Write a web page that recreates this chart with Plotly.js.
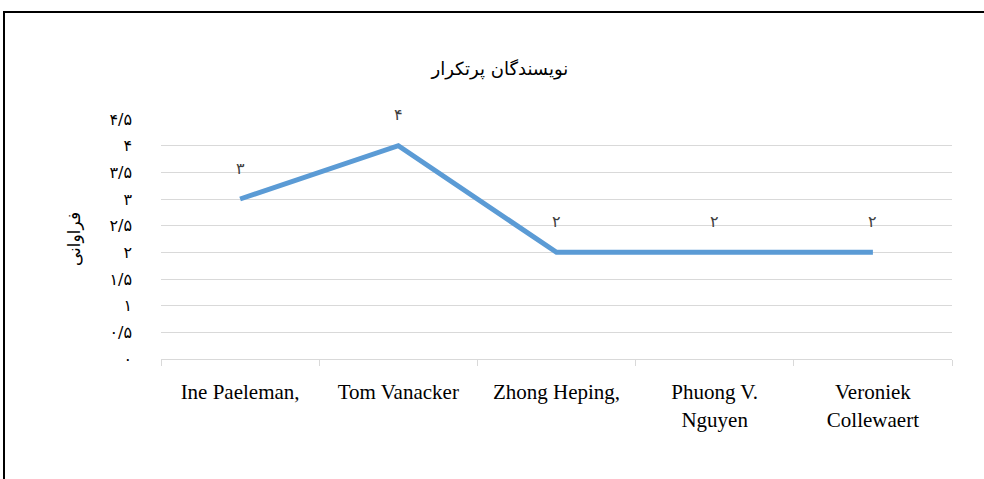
<!DOCTYPE html>
<html>
<head>
<meta charset="utf-8">
<script src="https://cdn.plot.ly/plotly-3.0.1.min.js"></script>
<style>
html,body{margin:0;padding:0;background:#fff;}
#wrap{position:relative;width:984px;height:479px;overflow:hidden;}
#chart{width:984px;height:479px;}
#frame{position:absolute;left:3px;top:11px;width:1000px;height:500px;border-top:2px solid #000;border-left:2px solid #000;pointer-events:none;}
</style>
</head>
<body>
<div id="wrap"><div id="chart"></div><div id="frame"></div></div>
<script>
const categories = ["Ine Paeleman,", "Tom Vanacker", "Zhong Heping,", "Phuong V.<br>Nguyen", "Veroniek<br>Collewaert"];
const values = [3, 4, 2, 2, 2];
const valueLabels = ["۳", "۴", "۲", "۲", "۲"];
const yTickVals = [0, 0.5, 1, 1.5, 2, 2.5, 3, 3.5, 4, 4.5];
const yTickText = ["۰", "۰/۵", "۱", "۱/۵", "۲", "۲/۵", "۳", "۳/۵", "۴", "۴/۵"];
const chartTitle = "نویسندگان پرتکرار";
const yTitle = "فراوانی";

const trace = {
  x: categories,
  y: values,
  type: "scatter",
  mode: "lines",
  line: {color: "#5B9BD5", width: 5},
  hoverinfo: "none"
};

const annotations = categories.map((c, i) => ({
  x: c, y: values[i], xref: "x", yref: "y",
  text: valueLabels[i], showarrow: false, yshift: 31,
  font: {family: "DejaVu Sans, Noto Sans", size: 16, color: "#404040"}
}));

const layout = {
  width: 984, height: 479,
  margin: {l: 161, r: 32, t: 119, b: 120},
  paper_bgcolor: "#fff", plot_bgcolor: "#fff",
  showlegend: false,
  title: {text: chartTitle, x: 0.508, xref: "container", xanchor: "center", y: 0.856, yref: "container", yanchor: "middle",
          font: {family: "DejaVu Sans, Noto Sans", size: 18, color: "#000"}},
  xaxis: {
    type: "category",
    tickson: "boundaries",
    ticks: "outside", ticklen: 6, tickcolor: "#d9d9d9",
    showline: true, linecolor: "#d9d9d9", linewidth: 1,
    showgrid: false, zeroline: false,
    ticklabelstandoff: 14,
    tickfont: {family: "Liberation Serif, Times New Roman, serif", size: 21, color: "#000"},
    range: [-0.5, 4.5]
  },
  yaxis: {
    range: [0, 4.5],
    tickvals: yTickVals, ticktext: yTickText,
    ticks: "", showline: false,
    showgrid: true, gridcolor: "#d9d9d9", gridwidth: 1,
    zeroline: false,
    ticklabelstandoff: 28,
    tickfont: {family: "DejaVu Sans, Noto Sans", size: 16, color: "#000"},
    title: {text: yTitle, standoff: 24, font: {family: "DejaVu Sans, Noto Sans", size: 17, color: "#000"}}
  },
  annotations: annotations
};

Plotly.newPlot("chart", [trace], layout, {displayModeBar: false, staticPlot: true});
</script>
</body>
</html>
